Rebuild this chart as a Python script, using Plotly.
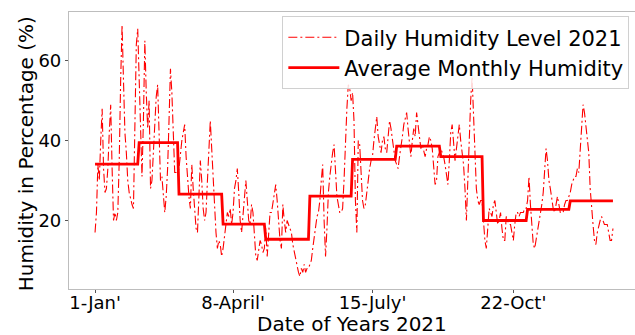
import plotly.graph_objects as go

# Daily relative humidity (%) for 2021, month by month
jan = [17, 22, 34, 30, 40, 48, 33, 27, 28, 33, 42, 49, 33, 20, 22, 20, 22, 35, 55, 69,
       55, 42, 37, 30, 27, 25, 24, 23, 40, 64, 68]
feb = [55, 40, 31, 45, 65, 52, 43, 50, 28, 30, 38, 46, 51, 54, 40, 30, 31, 27, 22, 26,
       33, 45, 58, 52, 40, 32, 32, 32]
mar = [33, 37, 40, 42, 44, 36, 30, 26, 23, 34, 28, 22, 18, 17, 27, 35, 30, 23, 20, 22,
       30, 40, 45, 38, 30, 25, 17, 13, 15, 14, 11]
apr = [13, 17, 19, 22, 21, 23, 19, 22, 28, 30, 33, 27, 20, 17, 22, 27, 30, 25, 20, 19,
       24, 22, 15, 11, 10, 13, 15, 14, 12, 13]
may = [18, 11, 16, 22, 22, 24, 26, 29, 25, 19, 15, 13, 24, 20, 17, 20, 19, 18, 17, 14,
       12, 10, 9, 7, 6, 8, 7, 9, 7, 8, 8]
jun = [9, 10, 13, 16, 19, 21, 22, 25, 30, 34, 20, 11, 18, 27, 31, 35, 37, 39, 33, 26,
       24, 22, 22, 23, 30, 40, 48, 54, 53, 50]
jul = [52, 45, 25, 17, 40, 39, 30, 25, 23, 24, 27, 31, 33, 35, 36, 40, 43, 46, 41, 39,
       37, 40, 41, 38, 37, 41, 45, 43, 40, 38, 35]
aug = [34, 33, 36, 38, 41, 44, 46, 47, 43, 39, 36, 40, 43, 41, 47, 44, 40, 38, 39, 37,
       36, 38, 39, 41, 40, 38, 33, 29, 30, 36, 37]
sep = [38, 37, 36, 34, 31, 29, 35, 42, 44, 39, 35, 38, 41, 44, 40, 37, 34, 28, 20, 30,
       43, 50, 56, 45, 37, 28, 25, 24, 25, 25]
oct_ = [20, 15, 13, 17, 23, 22, 21, 24, 25, 22, 19, 20, 22, 18, 15, 15, 21, 20, 19, 19,
        17, 15, 19, 22, 22, 21, 22, 22, 22, 23, 23]
nov = [25, 31, 24, 18, 14, 13, 15, 18, 20, 22, 24, 27, 33, 38, 35, 30, 28, 25, 23, 22,
       24, 26, 24, 22, 22, 22, 24, 25, 25, 26]
dec = [27, 29, 30, 31, 31, 33, 32, 37, 44, 49, 47, 43, 40, 37, 28, 22, 19, 15, 14, 17,
       19, 20, 21, 20, 19, 19, 19, 17, 15, 15, 18]

# Monthly mean humidity (%)
monthly_avg = [34.1, 39.5, 26.6, 19.1, 15.3, 26.1, 35.3, 38.6, 36.0, 20.0, 22.8, 24.9]

tick_days = [0, 97, 195, 294]
tick_text = ["1-Jan'", "8-April'", "15-July'", "22-Oct'"]
y_ticks = [20, 40, 60]

months = [jan, feb, mar, apr, may, jun, jul, aug, sep, oct_, nov, dec]
daily = [v for m in months for v in m]
days = list(range(len(daily)))
monthly_line = [avg for avg, m in zip(monthly_avg, months) for _ in m]

RED = "#ff0000"
FONT = "DejaVu Sans"

fig = go.Figure()
fig.add_trace(go.Scatter(
    x=days, y=daily, mode="lines", name="Daily Humidity Level 2021",
    line=dict(color=RED, width=1.1, dash="9px,3px,2px,3px"),
    legendgroup="a",
))
fig.add_trace(go.Scatter(
    x=days, y=monthly_line, mode="lines", name="Average Monthly Humidity",
    line=dict(color=RED, width=2.8),
    legendgroup="b",
))

axis_common = dict(
    showgrid=False, zeroline=False,
    showline=True, linecolor="#bdbdbd", linewidth=1.2,
    ticks="outside", ticklen=3, tickcolor="#555555", tickwidth=1,
    tickfont=dict(family=FONT, size=18, color="#000000"),
)

fig.update_layout(
    width=635, height=335,
    margin=dict(l=69, r=0, t=12, b=46),
    paper_bgcolor="white", plot_bgcolor="white",
    font=dict(family=FONT, color="#000000"),
    xaxis=dict(
        **axis_common, mirror=True,
        range=[-18.3, 379.5],
        tickmode="array", tickvals=tick_days, ticktext=tick_text,
        ticklabelstandoff=-6,
    ),
    yaxis=dict(
        **axis_common, mirror=False,
        range=[2.85, 72.2],
        tickmode="array", tickvals=y_ticks,
    ),
    legend=dict(
        x=0.99, y=0.985, xanchor="right", yanchor="top",
        bgcolor="rgba(255,255,255,0.85)", bordercolor="#d0d0d0", borderwidth=1,
        font=dict(family=FONT, size=21, color="#000000"),
        traceorder="grouped", tracegroupgap=0, itemwidth=51,
    ),
    showlegend=True,
    annotations=[
        dict(text="Date of Years 2021", xref="paper", yref="paper",
             x=0.5, y=-0.127, xanchor="center", yanchor="middle",
             showarrow=False, font=dict(family=FONT, size=20, color="#000000")),
        dict(text="Humidity in Percentage (%)", xref="paper", yref="paper",
             x=-0.076, y=0.49, xanchor="center", yanchor="middle", textangle=-90,
             showarrow=False, font=dict(family=FONT, size=20, color="#000000")),
    ],
)

fig.write_html("out.html")
